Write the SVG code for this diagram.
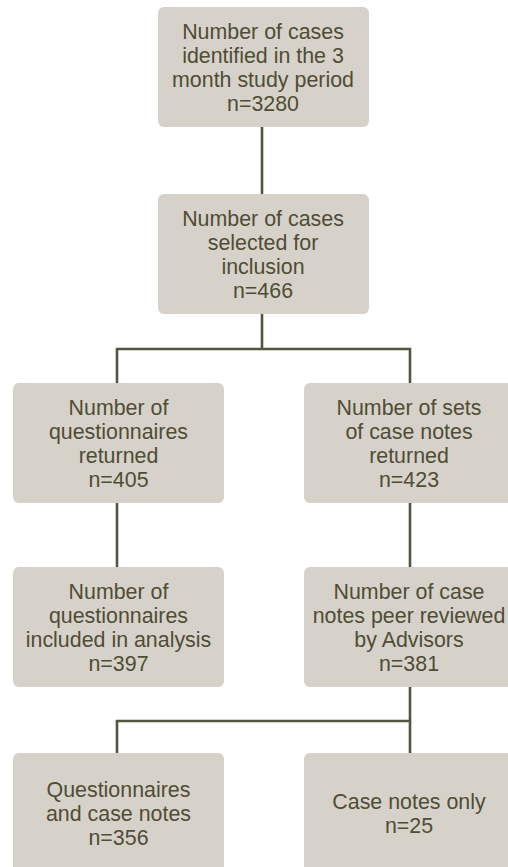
<svg xmlns="http://www.w3.org/2000/svg" width="508" height="867" viewBox="0 0 508 867">
<style>
.box{fill:#d6d2ca}
.t{font-family:"Liberation Sans",Arial,sans-serif;font-size:21.4px;fill:#4f4d35;text-anchor:middle}
.c{stroke:#545440;stroke-width:2.6;fill:none}
</style>
<rect width="508" height="867" fill="#ffffff"/>
<g id="connectors">
<path class="c" d="M262,127V194"/>
<path class="c" d="M262,314V349M117,383V349H410V383"/>
<path class="c" d="M117,503V567"/>
<path class="c" d="M410,503V567"/>
<path class="c" d="M410,687V753M410,721H117V753"/>
</g>
<g id="n1">
<rect class="box" x="158" y="7" width="211" height="120" rx="6"/>
<text class="t"><tspan x="263" y="38.5">Number of cases</tspan><tspan x="263" y="62.5">identified in the 3</tspan><tspan x="263" y="86.5">month study period</tspan><tspan x="263" y="110.5">n=3280</tspan></text>
</g>
<g id="n2">
<rect class="box" x="158" y="194" width="211" height="120" rx="6"/>
<text class="t"><tspan x="263" y="225.5">Number of cases</tspan><tspan x="263" y="249.5">selected for</tspan><tspan x="263" y="273.5">inclusion</tspan><tspan x="263" y="297.5">n=466</tspan></text>
</g>
<g id="n3">
<rect class="box" x="13" y="383" width="211" height="120" rx="6"/>
<text class="t"><tspan x="118.5" y="414.5">Number of</tspan><tspan x="118.5" y="438.5">questionnaires</tspan><tspan x="118.5" y="462.5">returned</tspan><tspan x="118.5" y="486.5">n=405</tspan></text>
</g>
<g id="n4">
<rect class="box" x="304" y="383" width="212" height="120" rx="6"/>
<text class="t"><tspan x="409" y="414.5">Number of sets</tspan><tspan x="409" y="438.5">of case notes</tspan><tspan x="409" y="462.5">returned</tspan><tspan x="409" y="486.5">n=423</tspan></text>
</g>
<g id="n5">
<rect class="box" x="13" y="567" width="211" height="120" rx="6"/>
<text class="t"><tspan x="118.5" y="598.5">Number of</tspan><tspan x="118.5" y="622.5">questionnaires</tspan><tspan x="118.5" y="646.5">included in analysis</tspan><tspan x="118.5" y="670.5">n=397</tspan></text>
</g>
<g id="n6">
<rect class="box" x="304" y="567" width="212" height="120" rx="6"/>
<text class="t"><tspan x="409" y="598.5">Number of case</tspan><tspan x="409" y="622.5">notes peer reviewed</tspan><tspan x="409" y="646.5">by Advisors</tspan><tspan x="409" y="670.5">n=381</tspan></text>
</g>
<g id="n7">
<rect class="box" x="13" y="753" width="211" height="120" rx="6"/>
<text class="t"><tspan x="118.5" y="797">Questionnaires</tspan><tspan x="118.5" y="821">and case notes</tspan><tspan x="118.5" y="845">n=356</tspan></text>
</g>
<g id="n8">
<rect class="box" x="304" y="753" width="212" height="120" rx="6"/>
<text class="t"><tspan x="409" y="809">Case notes only</tspan><tspan x="409" y="833">n=25</tspan></text>
</g>
</svg>
